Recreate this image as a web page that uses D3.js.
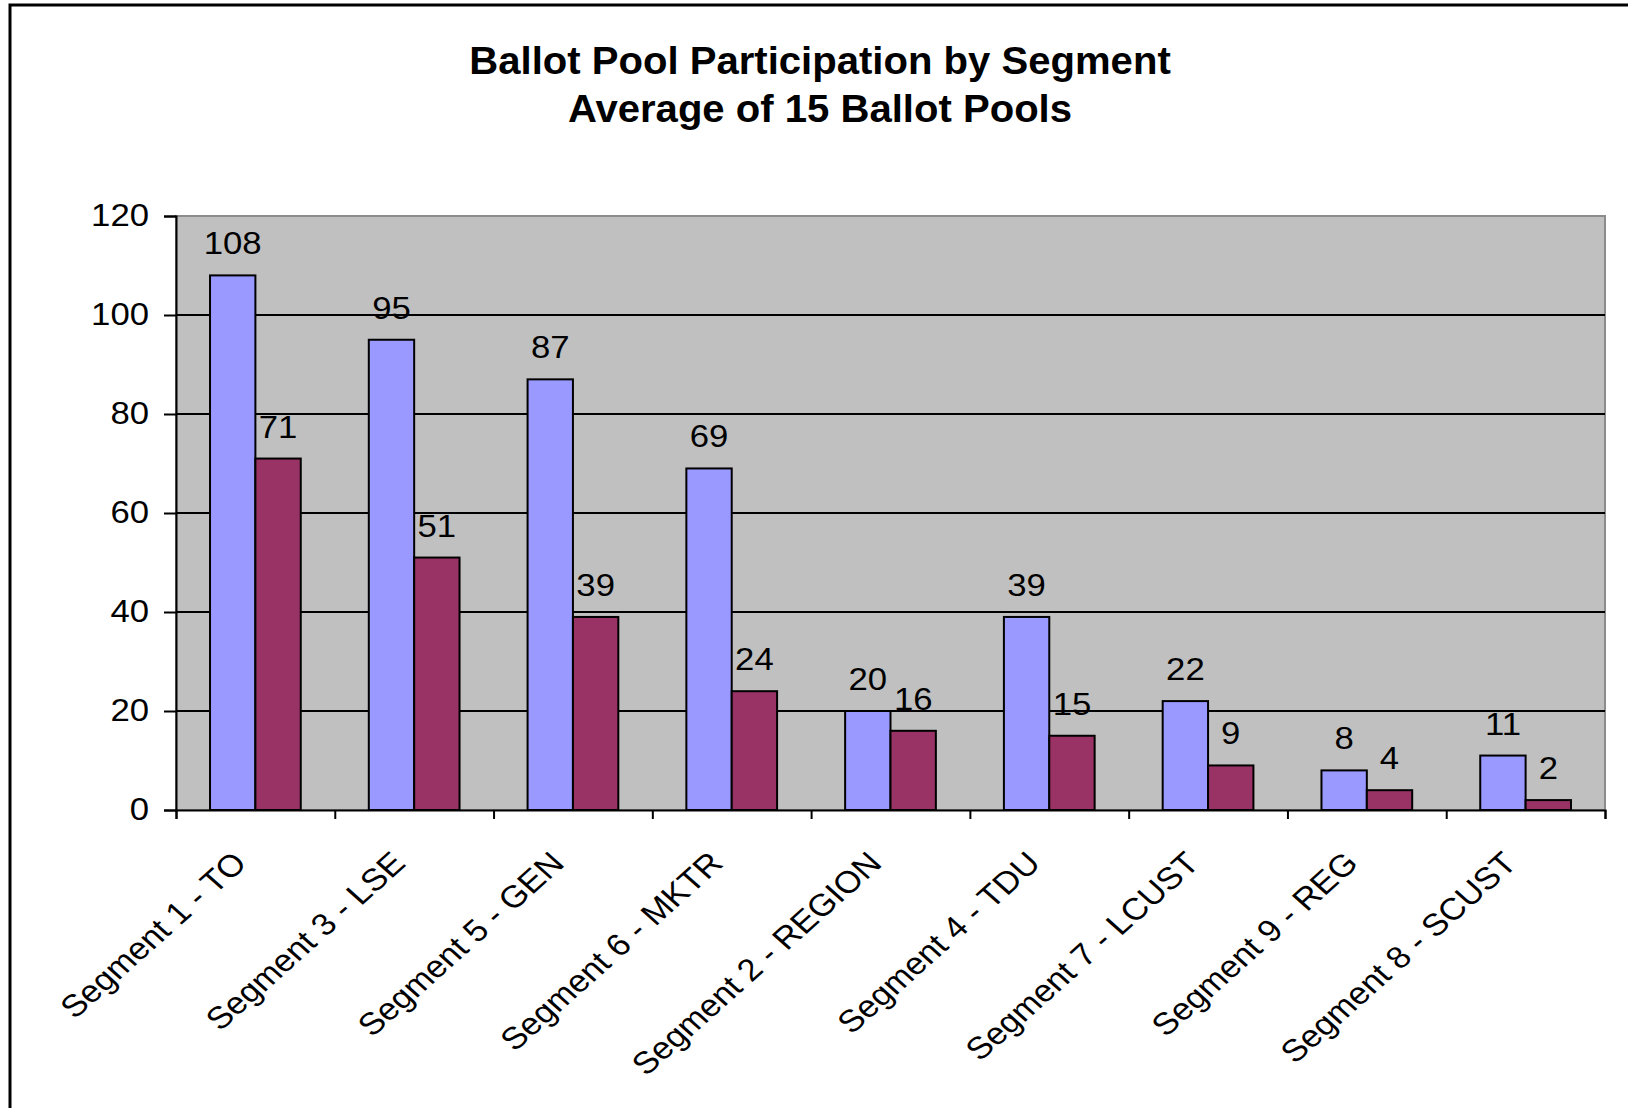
<!DOCTYPE html>
<html>
<head>
<meta charset="utf-8">
<script src="https://cdn.jsdelivr.net/npm/d3@7"></script>
<style>
  body { margin: 0; background: #fff; }
  text { font-family: "Liberation Sans", Arial, sans-serif; fill: #000; }
</style>
</head>
<body>
<div id="chart"></div>
<script>
var width = 1628,
  height = 1108,
  stretch = 1.12; // the source picture is a little wider than tall, text looks stretched

// data
var categories = ["Segment 1 - TO", "Segment 3 - LSE", "Segment 5 - GEN", "Segment 6 - MKTR",
  "Segment 2 - REGION", "Segment 4 - TDU", "Segment 7 - LCUST", "Segment 9 - REG", "Segment 8 - SCUST"];
var seriesA = [108, 95, 87, 69, 20, 39, 22, 8, 11];
var seriesB = [71, 51, 39, 24, 16, 15, 9, 4, 2];
var yTicks = [0, 20, 40, 60, 80, 100, 120];
var titleLines = ["Ballot Pool Participation by Segment", "Average of 15 Ballot Pools"];

var plot = { left: 176, right: 1605, top: 216, bottom: 810 };

var svg = d3.select("#chart").append("svg")
  .attr("width", width)
  .attr("height", height);

// outer chart border (only top/left visible in the crop)
svg.append("rect")
  .attr("x", 10).attr("y", 5)
  .attr("width", width + 20).attr("height", height + 20)
  .attr("fill", "#fff")
  .attr("stroke", "#000")
  .attr("stroke-width", 3);

svg.selectAll("text.title")
  .data(titleLines)
  .enter().append("text")
    .attr("class", "title")
    .attr("transform", (d, i) => "translate(820," + (74 + i * 48) + ") scale(1.055,1)")
    .attr("text-anchor", "middle")
    .attr("font-size", "38px")
    .attr("font-weight", "bold")
    .text(d => d);

var x = d3.scaleBand()
  .domain(categories)
  .range([plot.left, plot.right]);

var x1 = d3.scaleBand()
  .domain(["a", "b"])
  .range([0, x.bandwidth()])
  .paddingOuter(0.75);

var y = d3.scaleLinear()
  .domain([0, 120])
  .range([plot.bottom, plot.top]);

// plot background
svg.append("rect")
  .attr("x", plot.left).attr("y", plot.top)
  .attr("width", plot.right - plot.left)
  .attr("height", plot.bottom - plot.top)
  .attr("fill", "#c0c0c0")
  .attr("stroke", "#8c8c8c")
  .attr("stroke-width", 2);

// gridlines
svg.append("g")
  .selectAll("line")
  .data(yTicks.filter(d => d > 0 && d < 120))
  .enter().append("line")
    .attr("x1", plot.left).attr("x2", plot.right)
    .attr("y1", d => y(d)).attr("y2", d => y(d))
    .attr("stroke", "#000")
    .attr("stroke-width", 2);

var groups = svg.append("g")
  .selectAll("g")
  .data(categories)
  .enter().append("g")
    .attr("transform", d => "translate(" + x(d) + ",0)");

var bars = [
  { key: "a", values: seriesA, color: "#9999ff" },
  { key: "b", values: seriesB, color: "#993366" }
];

bars.forEach(s => {
  groups.append("rect")
    .attr("x", x1(s.key))
    .attr("width", x1.bandwidth())
    .attr("y", (d, i) => y(s.values[i]))
    .attr("height", (d, i) => y(0) - y(s.values[i]))
    .attr("fill", s.color)
    .attr("stroke", "#000")
    .attr("stroke-width", 2);

  groups.append("text")
    .attr("transform", (d, i) => "translate(" + (x1(s.key) + x1.bandwidth() / 2) + "," +
      (y(s.values[i]) - 21) + ") scale(" + stretch + ",1)")
    .attr("text-anchor", "middle")
    .attr("font-size", "31px")
    .attr("fill", "#111")
    .text((d, i) => s.values[i]);
});

// y axis
var yAxis = svg.append("g")
  .attr("transform", "translate(" + plot.left + ",0)")
  .call(d3.axisLeft(y).tickValues(yTicks).tickSize(12).tickPadding(16));
yAxis.select(".domain").attr("stroke", "#000").attr("stroke-width", 2);
yAxis.selectAll(".tick line").attr("stroke", "#000").attr("stroke-width", 2);
yAxis.selectAll(".tick text")
  .attr("x", -27 / stretch)
  .attr("transform", "scale(" + stretch + ",1)")
  .attr("font-size", "31px")
  .attr("font-family", "'Liberation Sans', Arial, sans-serif")
  .attr("fill", "#111");

// x axis: ticks between categories
var xEdge = d3.scaleLinear().domain([0, categories.length]).range([plot.left, plot.right]);
var xAxis = svg.append("g")
  .attr("transform", "translate(0," + plot.bottom + ")")
  .call(d3.axisBottom(xEdge).tickValues(d3.range(categories.length + 1)).tickSize(9).tickFormat(""));
xAxis.select(".domain").attr("stroke", "#000").attr("stroke-width", 2);
xAxis.selectAll(".tick line").attr("stroke", "#000").attr("stroke-width", 2);

svg.append("g")
  .selectAll("text")
  .data(categories)
  .enter().append("text")
    .attr("transform", d => "translate(" + (x(d) + x.bandwidth() / 2 - 7) + "," + (plot.bottom + 55) +
      ") scale(" + stretch + ",1) rotate(-45)")
    .attr("text-anchor", "end")
    .attr("font-size", "31px")
    .attr("fill", "#111")
    .text(d => d);
</script>
</body>
</html>
